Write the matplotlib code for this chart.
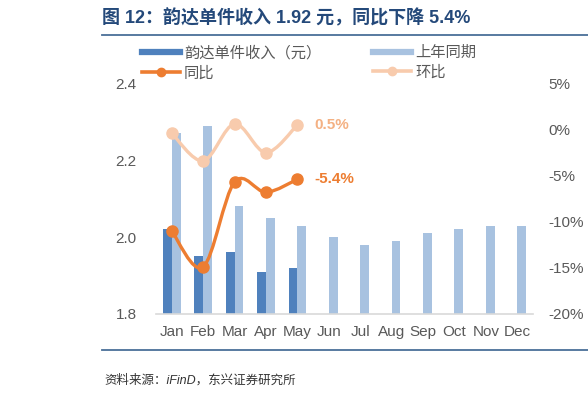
import numpy as np
import matplotlib
matplotlib.use("Agg")
import matplotlib.pyplot as plt
from matplotlib.lines import Line2D
from matplotlib.path import Path
from matplotlib.patches import PathPatch

plt.rcParams['font.family'] = ['Liberation Sans', 'Noto Sans CJK SC', 'DejaVu Sans']
plt.rcParams['axes.unicode_minus'] = False

# 数据
months = ['Jan', 'Feb', 'Mar', 'Apr', 'May', 'Jun', 'Jul', 'Aug', 'Sep', 'Oct', 'Nov', 'Dec']
rev_2023 = [2.02, 1.95, 1.96, 1.91, 1.92]
rev_last = [2.27, 2.29, 2.08, 2.05, 2.03, 2.00, 1.98, 1.99, 2.01, 2.02, 2.03, 2.03]
yoy = [-11.0, -14.9, -5.7, -6.8, -5.4]
mom = [-0.4, -3.4, 0.6, -2.5, 0.5]

c_dark = '#4F81BD'
c_light = '#A8C2E0'
c_orange = '#ED7D31'
c_peach = '#F8CBAD'
c_tick = '#595959'
c_title = '#24497A'


def smooth_path(xs, ys):
    # Catmull-Rom -> Bezier, like Excel's smoothed line
    pts = np.column_stack([xs, ys]).astype(float)
    verts = [pts[0]]
    codes = [Path.MOVETO]
    n = len(pts)
    for i in range(n - 1):
        p0 = pts[i - 1] if i > 0 else pts[i]
        p1 = pts[i]
        p2 = pts[i + 1]
        p3 = pts[i + 2] if i + 2 < n else pts[i + 1]
        verts += [p1 + (p2 - p0) / 6, p2 - (p3 - p1) / 6, p2]
        codes += [Path.CURVE4] * 3
    return Path(verts, codes)


fig = plt.figure(figsize=(5.88, 3.98), dpi=100)
ax = fig.add_axes([0.2653, 0.2111, 0.6412, 0.5794])
ax2 = ax.twinx()

x = np.arange(len(months))
w = 0.28
ax.bar(x[:len(rev_2023)] - w / 2, rev_2023, width=w, color=c_dark, zorder=2)
ax.bar(x + w / 2, rev_last, width=w, color=c_light, zorder=2)

ax.set_ylim(1.8, 2.4)
ax.set_yticks([1.8, 2.0, 2.2, 2.4])
ax.set_yticklabels(['1.8', '2.0', '2.2', '2.4'])
ax.set_xlim(-0.5, len(months) - 0.5)
ax.set_xticks(x)
ax.set_xticklabels(months)

ax2.set_ylim(-20, 5)
ax2.set_yticks([-20, -15, -10, -5, 0, 5])
ax2.set_yticklabels([f'{v}%' for v in [-20, -15, -10, -5, 0, 5]])

for a in (ax, ax2):
    for s in a.spines.values():
        s.set_visible(False)
    a.tick_params(length=0, labelsize=11, colors=c_tick)
ax.tick_params(axis='y', pad=14)
ax.tick_params(axis='x', pad=8)
ax2.tick_params(axis='y', pad=11)
ax.spines['bottom'].set_visible(True)
ax.spines['bottom'].set_color('#D9D9D9')
ax.spines['bottom'].set_linewidth(1.2)

xl = x[:len(yoy)]
for vals, col in [(mom, c_peach), (yoy, c_orange)]:
    ax2.add_patch(PathPatch(smooth_path(xl, vals), fill=False, edgecolor=col,
                            linewidth=2.4, capstyle='round', zorder=3))
    ax2.plot(xl, vals, linestyle='none', marker='o', markersize=8,
             color=col, zorder=4)

ax2.annotate(f'{mom[-1]}%', (xl[-1], mom[-1]), xytext=(12, 0), textcoords='offset points',
             ha='left', va='center', fontsize=11, fontweight='bold', color='#F4B183')
ax2.annotate(f'{yoy[-1]}%', (xl[-1], yoy[-1]), xytext=(12, 0), textcoords='offset points',
             ha='left', va='center', fontsize=11, fontweight='bold', color=c_orange)

# 图例
h1 = [Line2D([], [], color=c_dark, linewidth=4.5),
      Line2D([], [], color=c_orange, linewidth=2.6, marker='o', markersize=6)]
h2 = [Line2D([], [], color=c_light, linewidth=4.5),
      Line2D([], [], color=c_peach, linewidth=2.6, marker='o', markersize=6)]
leg_kw = dict(frameon=False, fontsize=11, handlelength=2.5, handletextpad=0.25,
              labelspacing=0.35, borderpad=0, borderaxespad=0, labelcolor=c_tick,
              loc='upper left')
leg1 = fig.legend(h1, ['韵达单件收入（元）', '同比'], bbox_to_anchor=(142 / 588, 1 - 46 / 398), **leg_kw)
leg2 = fig.legend(h2, ['上年同期', '环比'], bbox_to_anchor=(373 / 588, 1 - 46 / 398), **leg_kw)

# 标题与来源
fig.text(102 / 588, 1 - 18.5 / 398, '图 12：韵达单件收入 1.92 元，同比下降 5.4%',
         fontsize=13, fontweight='bold', color=c_title, ha='left', va='center')
fig.add_artist(Line2D([102 / 588, 1.0], [1 - 34.5 / 398] * 2, color='#4A6F98', linewidth=1.3))
fig.add_artist(Line2D([102 / 588, 1.0], [1 - 349.5 / 398] * 2, color='#4A6F98', linewidth=1.3))
fig.text(104 / 588, 1 - 380 / 398, '资料来源：iFinD，东兴证券研究所',
         fontsize=9, style='italic', color='#333333', ha='left', va='center')

fig.savefig('out.png', dpi=100)
